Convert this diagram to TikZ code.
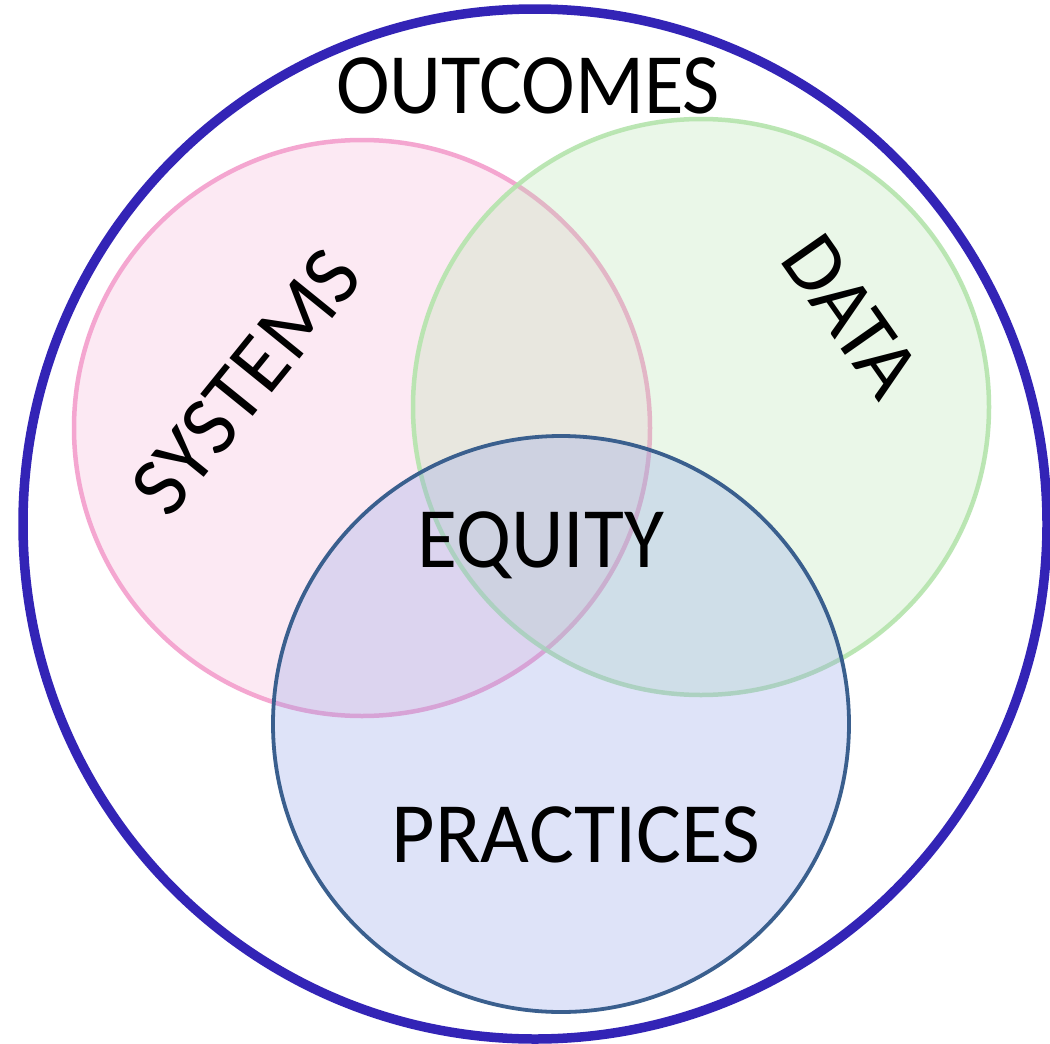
\documentclass[tikz,border=0pt]{standalone}
\usepackage{fontspec}
\setmainfont{Carlito}
\usetikzlibrary{shapes.geometric}
\definecolor{outerc}{HTML}{3324B6}
\definecolor{pinkc}{HTML}{F4A6D0}
\definecolor{greenc}{HTML}{B4E4AC}
\definecolor{bluefill}{HTML}{8C9EE8}
\definecolor{bluestroke}{HTML}{3A5F8E}
\tikzset{
  venn/.style={circle, inner sep=0pt, minimum size=576pt, line width=4.5pt},
  lbl/.style={inner sep=0pt, font=\fontsize{86}{90}\selectfont},
}
\begin{document}
\begin{tikzpicture}[x=1pt,y=-1pt]
\useasboundingbox (0,0) rectangle (1050,1044);
\fill[white] (0,0) rectangle (1050,1044);
\node[venn, draw=pinkc, fill=pinkc, fill opacity=0.24, draw opacity=1] (systems) at (362,428) {};
\node[venn, draw=greenc, fill=greenc, fill opacity=0.27, draw opacity=0.9] (data) at (701,407) {};
\node[venn, draw=bluestroke, fill=bluefill, fill opacity=0.28, line width=3.8pt] (practices) at (561,724) {};
\node[ellipse, inner sep=0pt, minimum width=1024pt, minimum height=1030pt, draw=outerc, line width=9.5pt] (outcomes) at (535,524) {};
\node[lbl, anchor=base, xscale=0.94] (toutcomes) at (528,113) {OUTCOMES};
\node[lbl, anchor=base, xscale=0.95] (tequity) at (541,567) {EQUITY};
\node[lbl, anchor=base, xscale=0.98] (tpractices) at (576,862) {PRACTICES};
\node[lbl, rotate=51, font=\fontsize{85}{88}\selectfont] (tsystems) at (246,382) {SYSTEMS};
\node[lbl, rotate=-55, font=\fontsize{84}{88}\selectfont] (tdata) at (851,316) {DATA};
\end{tikzpicture}
\end{document}
